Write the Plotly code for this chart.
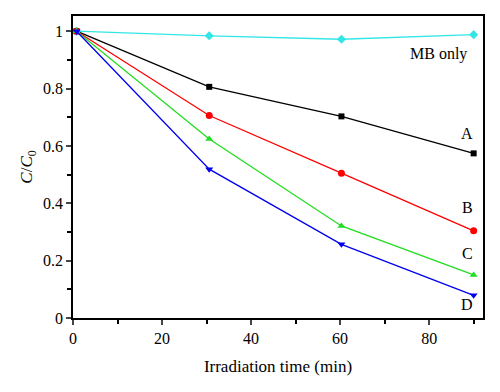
import plotly.graph_objects as go

time_min = [0.8, 30.6, 60.3, 90]
mb_only = [1.0, 0.984, 0.972, 0.988]
series_a = [1.0, 0.806, 0.703, 0.574]
series_b = [1.0, 0.706, 0.505, 0.304]
series_c = [1.0, 0.624, 0.321, 0.150]
series_d = [1.0, 0.519, 0.257, 0.079]

y_ticks = [0, 0.2, 0.4, 0.6, 0.8, 1.0]
y_tick_labels = ["0", "0.2", "0.4", "0.6", "0.8", "1"]
x_ticks = [0, 20, 40, 60, 80]

labels = ["MB only", "A", "B", "C", "D"]
label_x = [82, 88.6, 88.6, 88.6, 88.6]
label_y = [0.92, 0.645, 0.385, 0.225, 0.047]

font_family = "Liberation Serif, Times New Roman, serif"

fig = go.Figure()
specs = [
    (mb_only, "#33e6e6", "diamond", 7),
    (series_a, "black", "square", 6),
    (series_b, "#ff0000", "circle", 7),
    (series_c, "#22dd22", "triangle-up", 7),
    (series_d, "#0000ee", "triangle-down", 7),
]
for (vals, col, sym, sz), name in zip(specs, labels):
    fig.add_trace(go.Scatter(
        x=time_min, y=vals, mode="lines+markers", name=name,
        line=dict(color=col, width=1.3),
        marker=dict(color=col, symbol=sym, size=sz),
        showlegend=False,
    ))

for t, lx, ly in zip(labels, label_x, label_y):
    fig.add_annotation(x=lx, y=ly, text=t, showarrow=False,
                       font=dict(family=font_family, size=16, color="black"),
                       xanchor="center", yanchor="middle")

# the page body has an 8px default margin, so the figure is offset by 8px
fig.update_layout(
    width=492, height=384,
    margin=dict(l=65, r=17, t=8, b=74),
    paper_bgcolor="white", plot_bgcolor="white",
    font=dict(family=font_family, size=16, color="black"),
)
fig.update_xaxes(
    range=[0, 92.1], tickvals=x_ticks, ticks="outside", ticklen=5, tickwidth=1.5,
    showline=True, linecolor="black", linewidth=1.8, mirror=True,
    showgrid=False, zeroline=False, automargin=False,
    minor=dict(tickvals=[10, 30, 50, 70, 90], ticks="outside", ticklen=4, tickwidth=1.5,
               tickcolor="black", showgrid=False),
    title=dict(text="Irradiation time (min)", font=dict(size=17), standoff=14),
)
fig.update_yaxes(
    range=[0, 1.053], tickvals=y_ticks, ticktext=y_tick_labels, ticks="outside", ticklen=5, tickwidth=1.5,
    showline=True, linecolor="black", linewidth=1.8, mirror=True,
    showgrid=False, zeroline=False, automargin=False,
    minor=dict(tickvals=[0.1, 0.3, 0.5, 0.7, 0.9], ticks="outside", ticklen=4, tickwidth=1.5,
               tickcolor="black", showgrid=False),
    title=dict(text="<i>C</i>/<i>C</i><sub>0</sub>", font=dict(size=17), standoff=6),
)

fig.write_html("out.html")
